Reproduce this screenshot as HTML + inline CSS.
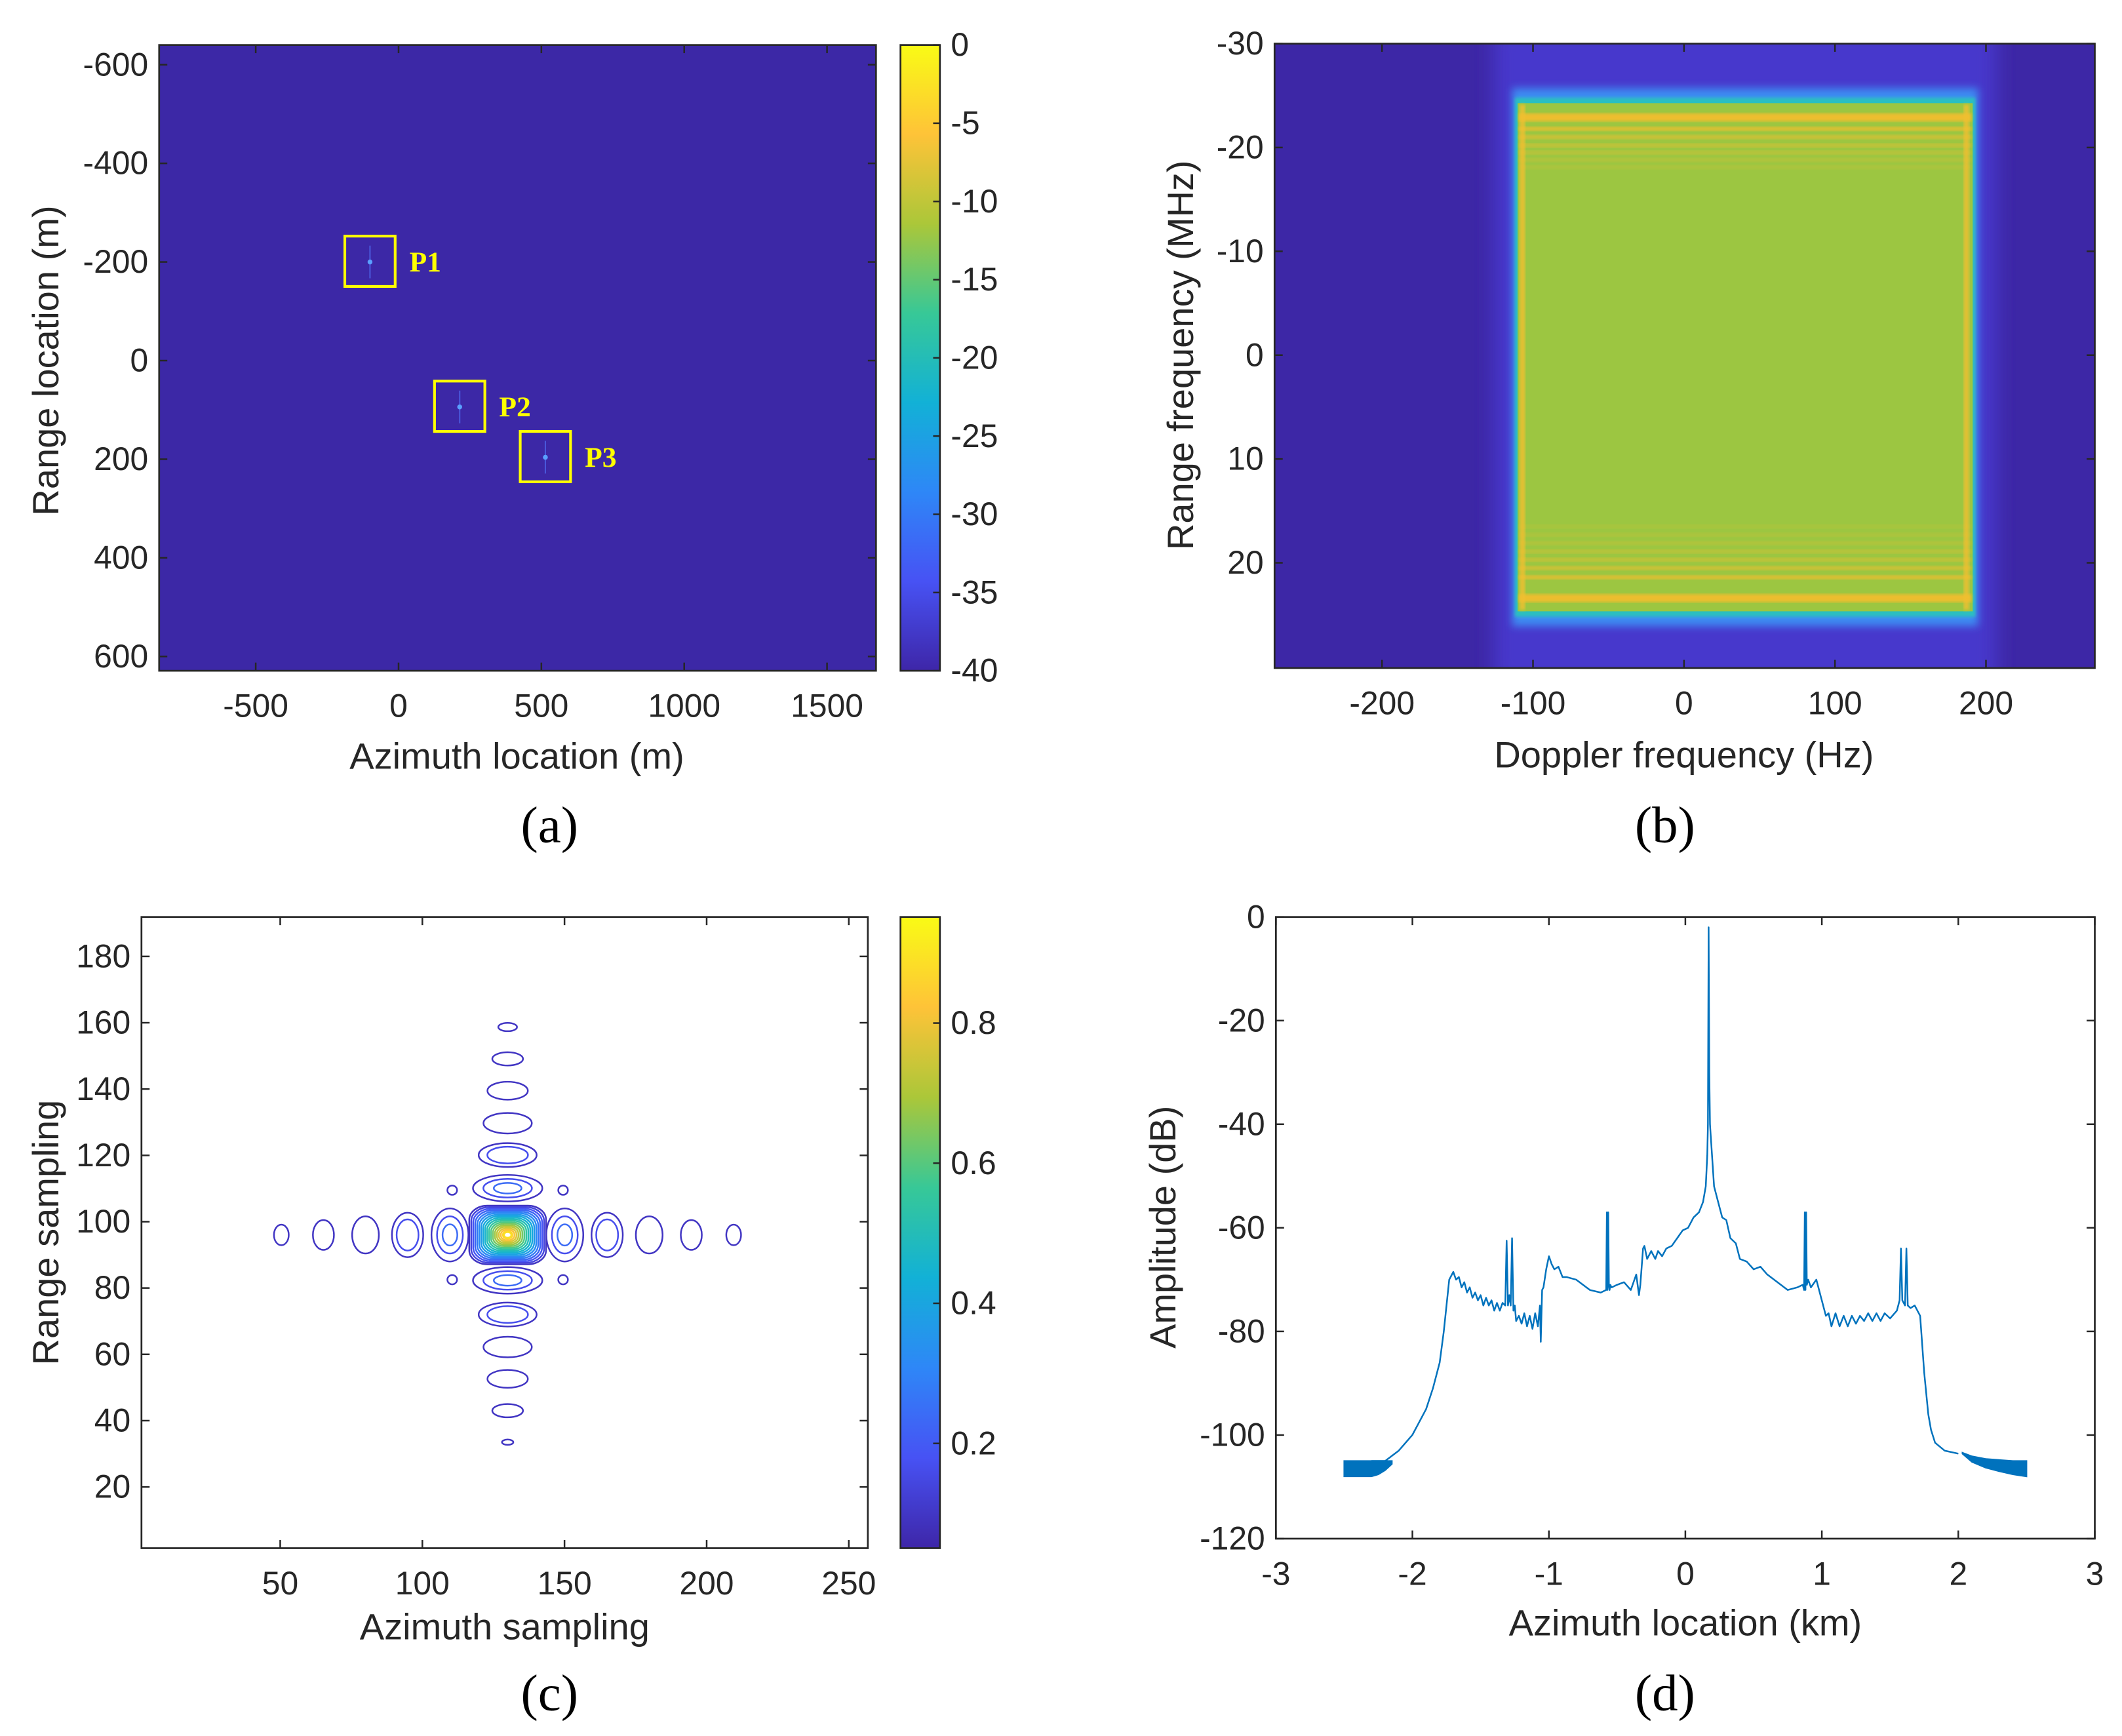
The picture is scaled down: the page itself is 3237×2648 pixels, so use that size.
<!DOCTYPE html>
<html><head><meta charset="utf-8"><style>
html,body{margin:0;padding:0;background:#fff;}
svg{display:block;}
text{font-family:"Liberation Sans",Arial,sans-serif;fill:#262626;}
.tk{font-size:24px;}
.lab{font-size:27px;}
.cap{font-family:"Liberation Serif",serif;font-size:38px;fill:#000;}
</style></head><body>
<svg id="fig" width="3237" height="2648" viewBox="0 0 1560 1276" xmlns="http://www.w3.org/2000/svg">
<defs>
<filter id="blur3"><feGaussianBlur stdDeviation="3"/></filter>
<filter id="blur6"><feGaussianBlur stdDeviation="7"/></filter>
<filter id="blur1"><feGaussianBlur stdDeviation="1.2"/></filter>
<linearGradient id="parula" x1="0" y1="1" x2="0" y2="0">
<stop offset="0" stop-color="#3e26a8"/><stop offset="0.143" stop-color="#4752f4"/><stop offset="0.286" stop-color="#2e87f7"/><stop offset="0.429" stop-color="#12b1d6"/><stop offset="0.571" stop-color="#37c897"/><stop offset="0.714" stop-color="#abc739"/><stop offset="0.857" stop-color="#fec338"/><stop offset="1" stop-color="#f9fb15"/>
</linearGradient>
<clipPath id="clipB"><rect x="937" y="32" width="603" height="459"/></clipPath>
<clipPath id="clipD"><rect x="938" y="674" width="602" height="457"/></clipPath>
</defs>
<g id="pa"></g>
<g id="pb"></g>
<g id="pc"></g>
<g id="pd"></g>
</svg>
<script>
// ---------- data ----------
// panel a
const aXTicks=[-500,0,500,1000,1500];
const aYTicks=[-600,-400,-200,0,200,400,600];
const aCbTicks=[0,-5,-10,-15,-20,-25,-30,-35,-40];
const targetNames=["P1","P2","P3"];
const targetAz=[-100,214,514];
const targetRg=[-200,94,196];
// panel b
const bXTicks=[-200,-100,0,100,200];
const bYTicks=[-30,-20,-10,0,10,20];
const bBandLeft=-112, bBandRight=193, bBandTop=-24.4, bBandBottom=24.8;
const bStripesTop=[-22.9,-21.8,-21.0,-20.2,-19.5,-18.8,-18.1];
const bStripesBottom=[23.4,21.4,20.5,19.7,18.9,18.1,17.3,16.5];
const bStripeOpacity=[0.95,0.8,0.6,0.45,0.35,0.25,0.2,0.15];
const bEdgeCols=[-107,187];
// panel c
const cXTicks=[50,100,150,200,250];
const cYTicks=[20,40,60,80,100,120,140,160,180];
const cCbTicks=[0.2,0.4,0.6,0.8];
const cCenterX=130, cCenterY=96;
const hLobeX=[50.4,65.2,80,94.8,109.7,150.1,165,179.8,194.6,209.5];
const hLobeRx=[2.6,3.7,4.7,5.5,6.5,6.5,5.5,4.7,3.7,2.6];
const hLobeRy=[3.1,4.5,5.6,6.7,8.0,8.0,6.7,5.6,4.5,3.1];
const hLobeRings=[1,1,1,2,3,3,2,1,1,1];
const vLobeDY=[62.7,53.1,43.5,33.7,24.1,14.1,-13.7,-24,-33.8,-43.4,-53,-62.5];
const vLobeRx=[3.3,5.4,7.1,8.5,10.2,12.2,12.2,10.2,8.5,7.1,5.4,2.0];
const vLobeRy=[1.25,2,2.7,3.1,3.6,4,4,3.6,3.1,2.7,2,0.8];
const vLobeRings=[1,1,1,1,2,3,3,2,1,1,1,1];
const dLobeX=[110.5,149.5,110.5,149.5];
const dLobeY=[109.5,109.5,82.5,82.5];
const cMainLevels=[0.05,0.1,0.15,0.2,0.25,0.3,0.35,0.4,0.45,0.5,0.55,0.6,0.65,0.7,0.75,0.8,0.85,0.9,0.93];
// panel d
const dXTicks=[-3,-2,-1,0,1,2,3];
const dYTicks=[0,-20,-40,-60,-80,-100,-120];
const dX=[-2.3,-2.2,-2.1,-2.0,-1.9,-1.85,-1.8,-1.77,-1.75,-1.73,-1.71,-1.7,-1.68,-1.66,-1.64,-1.62,-1.6,-1.58,-1.56,-1.54,-1.52,-1.5,-1.48,-1.46,-1.44,-1.42,-1.4,-1.38,-1.36,-1.34,-1.32,-1.31,-1.3,-1.29,-1.28,-1.27,-1.26,-1.25,-1.24,-1.22,-1.2,-1.18,-1.16,-1.14,-1.12,-1.1,-1.08,-1.065,-1.06,-1.05,-1.04,-1.02,-1.0,-0.98,-0.96,-0.93,-0.9,-0.87,-0.8,-0.7,-0.62,-0.58,-0.575,-0.57,-0.565,-0.56,-0.555,-0.55,-0.54,-0.5,-0.45,-0.4,-0.36,-0.34,-0.33,-0.31,-0.3,-0.28,-0.25,-0.22,-0.2,-0.17,-0.14,-0.1,-0.06,-0.02,0.02,0.06,0.1,0.13,0.15,0.16,0.165,0.17,0.175,0.18,0.19,0.21,0.24,0.27,0.3,0.33,0.37,0.4,0.45,0.5,0.55,0.6,0.7,0.75,0.82,0.86,0.87,0.875,0.88,0.885,0.89,0.9,0.92,0.96,1.0,1.03,1.05,1.07,1.1,1.13,1.16,1.19,1.22,1.25,1.28,1.31,1.34,1.37,1.4,1.43,1.46,1.5,1.55,1.57,1.58,1.59,1.61,1.62,1.63,1.65,1.68,1.72,1.75,1.78,1.8,1.83,1.9,2.0,2.05];
const dY=[-105,-105,-103,-100,-95,-91,-86,-80,-75,-70,-69,-68.5,-70,-69.5,-71.5,-70.5,-72.5,-71.5,-73.5,-72.5,-74,-73,-75,-73.5,-75,-74,-76,-74.5,-76,-74.5,-75,-62.5,-75,-73,-75,-62,-76,-75,-78,-77,-78.5,-76.5,-79,-77,-79.5,-76.5,-79,-75,-82,-72,-71.5,-68,-65.5,-67,-68,-67.5,-69.5,-69.5,-70,-72,-72.5,-72,-57,-72,-57,-71,-72,-71,-71.5,-71,-70.5,-72,-69,-73,-71,-64,-63.5,-66,-64.5,-66,-64.5,-65.5,-64,-63.5,-62,-60.5,-60,-58,-57,-55,-52,-46,-40,-2,-30,-40,-44,-52,-55,-58,-58.5,-62,-63,-66,-66.5,-68,-67.5,-69,-71,-72,-71.5,-71,-72,-57,-72,-57,-71,-70,-71.5,-70,-74,-77,-76.5,-79,-76.5,-79,-77,-79,-77,-78.5,-77,-78,-76.5,-78,-76.5,-78,-76.5,-77.5,-76,-74,-64,-74,-75,-64,-75,-75.5,-75,-77,-88,-96,-99,-101.5,-103,-103.6];
const dBandX=[-2.5,-2.4,-2.3,-2.25,-2.2,-2.15];
const dBandTop=[-105,-105,-105,-105,-105,-105];
const dBandBot=[-108,-108,-108,-107.6,-106.8,-105.6];
const dBandRX=[2.03,2.1,2.2,2.3,2.4,2.5];
const dBandRTop=[-103.4,-104.1,-104.6,-104.8,-105,-105];
const dBandRBot=[-103.6,-105.2,-106.3,-107,-107.6,-108];

// ---------- helpers ----------
const NS="http://www.w3.org/2000/svg";
function mk(tag,attrs,parent){const e=document.createElementNS(NS,tag);for(const k in attrs)e.setAttribute(k,attrs[k]);parent.appendChild(e);return e;}
function txt(s,x,y,cls,anchor,parent,extra){const t=mk('text',Object.assign({x:x,y:y,'class':cls,'text-anchor':anchor},extra||{}),parent);t.textContent=s;return t;}
const PAR=[[62,38,168],[71,82,244],[46,135,247],[18,177,214],[55,200,151],[171,199,57],[254,195,56],[249,251,21]];
function parula(t){t=Math.max(0,Math.min(1,t));const p=t*7;const i=Math.min(6,Math.floor(p));const f=p-i;const a=PAR[i],b=PAR[i+1];return 'rgb('+a.map((v,k)=>Math.round(v+(b[k]-v)*f)).join(',')+')';}
function axesBox(g,L,T,R,B,xt,yt,sx,sy,name){
  const box=mk('rect',{x:L,y:T,width:R-L,height:B-T,fill:'none',stroke:'#262626','stroke-width':1.3},g);
  
  
  xt.forEach(v=>{const x=sx(v);mk('line',{x1:x,y1:B,x2:x,y2:B-6,stroke:'#262626','stroke-width':1.2},g);mk('line',{x1:x,y1:T,x2:x,y2:T+6,stroke:'#262626','stroke-width':1.2},g);
    const t=txt(String(v),x,B+34,'tk','middle',g);});
  yt.forEach(v=>{const y=sy(v);mk('line',{x1:L,y1:y,x2:L+6,y2:y,stroke:'#262626','stroke-width':1.2},g);mk('line',{x1:R,y1:y,x2:R-6,y2:y,stroke:'#262626','stroke-width':1.2},g);
    const t=txt(String(v),L-8,y+8,'tk','end',g);});
}
function colorbar(g,L,T,R,B,ticks,sy,name){
  const r=mk('rect',{x:L,y:T,width:R-L,height:B-T,fill:'url(#parula)',stroke:'#262626','stroke-width':1.3},g);
  
  
  ticks.forEach(v=>{const y=sy(v);mk('line',{x1:R,y1:y,x2:R-5,y2:y,stroke:'#262626','stroke-width':1.2},g);
    const t=txt(String(v),R+8,y+8,'tk','start',g);});
}

// ---------- panel a ----------
(function(){
const g=document.getElementById('pa');
const L=117,T=33,R=644,B=493;
const sx=v=>293+v*0.21, sy=v=>265+v*0.3625;
mk('rect',{x:L,y:T,width:R-L,height:B-T,fill:'#3c28a6'},g);
targetNames.forEach((n,i)=>{
  const cx=sx(targetAz[i]),cy=sy(targetRg[i]);
  const bx=mk('rect',{x:cx-18.5,y:cy-19,width:37,height:37,fill:'none',stroke:'#ffff00','stroke-width':2},g);
  
  
  mk('line',{x1:cx,y1:cy-12,x2:cx,y2:cy+12,stroke:'#4f6bf0','stroke-width':1,opacity:0.7},g);
  mk('circle',{cx:cx,cy:cy,r:1.8,fill:'#5aa0ff'},g);
  const t=txt(n,cx+29,cy+7,'','start',g,{style:'font-family:"Liberation Serif",serif;font-weight:bold;font-size:21px;fill:#ffff00'});
  
  
});
axesBox(g,L,T,R,B,aXTicks,aYTicks,sx,sy,'panel-a');
colorbar(g,662,33,691,493,aCbTicks,v=>33+(-v)*(460/40),'panel-a');
let t=txt('Azimuth location (m)',380,565,'lab','middle',g);
t=txt('Range location (m)',0,0,'lab','middle',g,{transform:'translate(43,265) rotate(-90)'});
t=txt('(a)',404,619,'cap','middle',g);
})();

// ---------- panel b ----------
(function(){
const g=document.getElementById('pb');
const L=937,T=32,R=1540,B=491;
const sx=v=>1238+v*1.11, sy=v=>261+v*7.633;
const cg=mk('g',{'clip-path':'url(#clipB)'},g);
mk('rect',{x:L,y:T,width:R-L,height:B-T,fill:'#3d27a6'},cg);
mk('rect',{x:sx(bBandLeft-14),y:T-10,width:sx(bBandRight+14)-sx(bBandLeft-14),height:B-T+20,fill:'#4638cc',filter:'url(#blur6)'},cg);
const rx=sx(bBandLeft),rw=sx(bBandRight)-sx(bBandLeft),ry=sy(bBandTop),rh=sy(bBandBottom)-sy(bBandTop);
mk('rect',{x:rx-2,y:ry-10,width:rw+4,height:rh+20,fill:'#3d8cf2',filter:'url(#blur3)'},cg);
mk('rect',{x:rx,y:ry-3,width:rw,height:rh+6,fill:'#2bbfc0',filter:'url(#blur1)'},cg);
const body=mk('rect',{x:rx+2,y:ry+1,width:rw-4,height:rh-2,fill:'#9cc641'},cg);


bStripesTop.forEach((r,i)=>{const s=mk('rect',{x:rx+3,y:sy(r)-(i==0?3:1.5),width:rw-6,height:i==0?6:3,fill:'#f2bd2e',opacity:bStripeOpacity[i],filter:'url(#blur1)'},cg);});
bStripesBottom.forEach((r,i)=>{const s=mk('rect',{x:rx+3,y:sy(r)-(i==0?3:1.5),width:rw-6,height:i==0?6:3,fill:'#f2bd2e',opacity:bStripeOpacity[i],filter:'url(#blur1)'},cg);});
bEdgeCols.forEach(f=>{const s=mk('rect',{x:sx(f)-2,y:ry+2,width:4,height:rh-4,fill:'#f0c030',opacity:0.85,filter:'url(#blur1)'},cg);});
axesBox(g,L,T,R,B,bXTicks,bYTicks,sx,sy,'panel-b');
let t=txt('Doppler frequency (Hz)',1238,564,'lab','middle',g);
t=txt('Range frequency (MHz)',0,0,'lab','middle',g,{transform:'translate(877,261) rotate(-90)'});
t=txt('(b)',1224,619,'cap','middle',g);
})();

// ---------- panel c ----------
(function(){
const g=document.getElementById('pc');
const L=104,T=674,R=638,B=1138;
const sx=v=>206+(v-50)*2.09, sy=v=>1093-(v-20)*2.4375;
const kx=2.09, ky=2.4375;
mk('rect',{x:L,y:T,width:R-L,height:B-T,fill:'#fff'},g);
function lobe(cx,cy,rx,ry,rings,nm){
  for(let k=0;k<rings;k++){const f=1-k*0.3;
    const e=mk('ellipse',{cx:sx(cx),cy:sy(cy),rx:rx*kx*f,ry:ry*ky*f,fill:'none',stroke:parula(0.05+k*0.08),'stroke-width':1.2},g);
    
    }
}
hLobeX.forEach((x,i)=>lobe(x,cCenterY,hLobeRx[i],hLobeRy[i],hLobeRings[i],'azimuth-sidelobe-contour'));
vLobeDY.forEach((d,i)=>lobe(cCenterX,cCenterY+d,vLobeRx[i],vLobeRy[i],vLobeRings[i],'range-sidelobe-contour'));
dLobeX.forEach((x,i)=>lobe(x,dLobeY[i],1.7,1.4,1,'diagonal-sidelobe-contour'));
cMainLevels.forEach((lv,i)=>{
  const f=1-lv*0.98;
  const w=14.2*kx*f, h=9.3*ky*f;
  const e=mk('rect',{x:sx(cCenterX)-w,y:sy(cCenterY)-h,width:2*w,height:2*h,rx:w*(0.45+lv*0.5),ry:h*(0.45+lv*0.5),fill:'none',stroke:parula(lv),'stroke-width':1.2},g);
  
  
});
axesBox(g,L,T,R,B,cXTicks,cYTicks,sx,sy,'panel-c');
colorbar(g,662,674,691,1138,cCbTicks,v=>1061-(v-0.2)*515,'panel-c');
let t=txt('Azimuth sampling',371,1205,'lab','middle',g);
t=txt('Range sampling',0,0,'lab','middle',g,{transform:'translate(43,906) rotate(-90)'});
t=txt('(c)',404,1257,'cap','middle',g);
})();

// ---------- panel d ----------
(function(){
const g=document.getElementById('pd');
const L=938,T=674,R=1540,B=1131;
const sx=v=>1239+v*100.33, sy=v=>674-v*(457/120);
mk('rect',{x:L,y:T,width:R-L,height:B-T,fill:'#fff'},g);
const cg=mk('g',{'clip-path':'url(#clipD)'},g);
let pts=dBandX.map((x,i)=>sx(x)+','+sy(dBandTop[i])).concat(dBandX.slice().reverse().map((x,i)=>sx(x)+','+sy(dBandBot[dBandX.length-1-i])));
let p=mk('polygon',{points:pts.join(' '),fill:'#0072bd',stroke:'#0072bd','stroke-width':1},cg);


pts=dBandRX.map((x,i)=>sx(x)+','+sy(dBandRTop[i])).concat(dBandRX.slice().reverse().map((x,i)=>sx(x)+','+sy(dBandRBot[dBandRX.length-1-i])));
p=mk('polygon',{points:pts.join(' '),fill:'#0072bd',stroke:'#0072bd','stroke-width':1},cg);


const line=mk('polyline',{points:dX.map((x,i)=>sx(x).toFixed(1)+','+sy(dY[i]).toFixed(1)).join(' '),fill:'none',stroke:'#0072bd','stroke-width':1.2,'stroke-linejoin':'round'},cg);


axesBox(g,L,T,R,B,dXTicks,dYTicks,sx,sy,'panel-d');
let t=txt('Azimuth location (km)',1239,1202,'lab','middle',g);
t=txt('Amplitude (dB)',0,0,'lab','middle',g,{transform:'translate(864,902) rotate(-90)'});
t=txt('(d)',1224,1257,'cap','middle',g);
})();
</script>
</body></html>
